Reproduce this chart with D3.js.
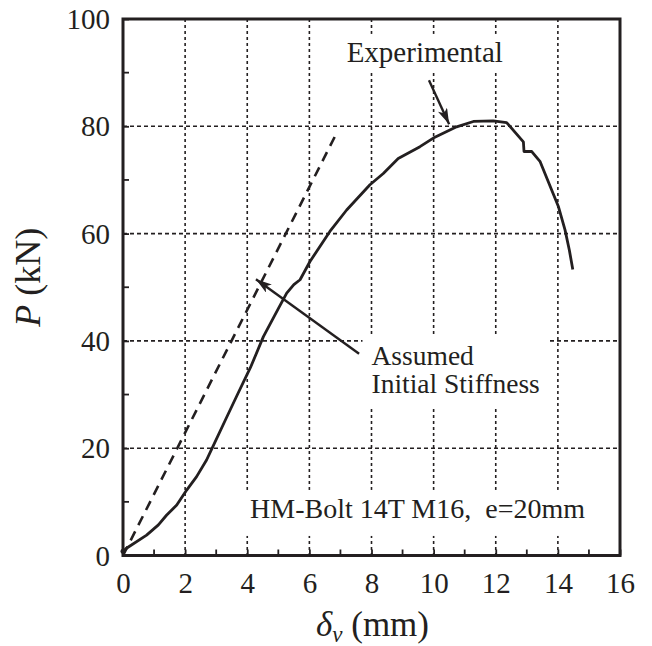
<!DOCTYPE html>
<html><head><meta charset="utf-8">
<script src="https://cdn.jsdelivr.net/npm/d3@7"></script>
<style>
html,body{margin:0;padding:0;background:#fff;}
svg text{font-family:"Liberation Serif","Times New Roman",serif;fill:#231f20;}
</style></head>
<body>
<svg id="chart" width="652" height="646"></svg>
<script>
// ---- data ----
const expX = [0, 0.1, 0.76, 1.14, 1.4, 1.73, 2.05, 2.37, 2.69, 2.87, 3.3, 3.7, 4.1, 4.52, 5.0, 5.27, 5.5, 5.7, 6.02, 6.66, 7.2, 7.95, 8.38, 8.86, 9.56, 9.99, 10.74, 11.28, 11.92, 12.35, 12.89, 12.91, 13.16, 13.43, 14.02, 14.23, 14.37, 14.48];
const expY = [0.8, 1.3, 3.8, 5.7, 7.5, 9.4, 12.2, 14.7, 17.8, 20.0, 25.3, 30.2, 35.0, 40.8, 46.0, 48.9, 50.5, 51.4, 54.8, 60.4, 64.4, 69.1, 71.2, 74.0, 76.2, 77.8, 79.9, 80.9, 81.0, 80.7, 77.1, 75.3, 75.3, 73.4, 65.0, 60.7, 56.9, 53.3];
const stiffX = [0, 6.9];
const stiffY = [0, 79];
const xTicks = [0, 2, 4, 6, 8, 10, 12, 14, 16];
const xMinor = [1, 3, 5, 7, 9, 11, 13, 15];
const yTicks = [0, 20, 40, 60, 80, 100];
const yMinor = [10, 30, 50, 70, 90];
const xGrid = [2, 4, 6, 8, 10, 12, 14];
const yGrid = [20, 40, 60, 80];

const svg = d3.select("#chart");
const L = 123, R = 620, T = 19, B = 555.5;
const x = d3.scaleLinear().domain([0, 16]).range([L, R]);
const y = d3.scaleLinear().domain([0, 100]).range([B, T]);
const ink = "#231f20";

// grid
const g = svg.append("g");
g.selectAll(".gx").data(xGrid).join("line")
  .attr("x1", d => x(d)).attr("x2", d => x(d)).attr("y1", T).attr("y2", B)
  .attr("stroke", ink).attr("stroke-width", 1.6).attr("stroke-dasharray", "3,3");
g.selectAll(".gy").data(yGrid).join("line")
  .attr("y1", d => y(d)).attr("y2", d => y(d)).attr("x1", L).attr("x2", R)
  .attr("stroke", ink).attr("stroke-width", 1.6).attr("stroke-dasharray", "4,3");

// annotation text boxes (white masks over grid)
const ann = svg.append("g");
function label(lines, xv, yv, size, lh, pad) {
  const grp = ann.append("g");
  const rect = grp.append("rect").attr("fill", "#fff");
  const t = grp.append("text").attr("font-size", size);
  lines.forEach((s, i) => t.append("tspan").attr("x", x(xv)).attr("y", y(yv) + i * lh).text(s));
  const bb = t.node().getBBox();
  rect.attr("x", bb.x - pad[0]).attr("y", bb.y - pad[1])
      .attr("width", bb.width + pad[0] + pad[2]).attr("height", bb.height + pad[1] + pad[3]);
}
label(["Experimental"], 7.2, 92.0, 29, 0, [4, 2, 4, 4]);
label(["Assumed", "Initial Stiffness"], 8.0, 35.5, 27.5, 28, [9, 6, 9, 8]);
label(["HM-Bolt 14T M16,\u00a0 e=20mm"], 4.09, 7.0, 28, 0, [7, 3, 7, 12]);

// assumed stiffness dashed line
const line = d3.line().x(d => x(d[0])).y(d => y(d[1]));
svg.append("path").datum(stiffX.map((v, i) => [v, stiffY[i]]))
  .attr("d", line).attr("fill", "none").attr("stroke", ink)
  .attr("stroke-width", 2.6).attr("stroke-dasharray", "10,7");

// experimental curve
svg.append("path").datum(expX.map((v, i) => [v, expY[i]]))
  .attr("d", line).attr("fill", "none").attr("stroke", ink)
  .attr("stroke-width", 2.8).attr("stroke-linejoin", "round");
svg.append("circle").attr("cx", x(expX[0])).attr("cy", y(expY[0])).attr("r", 2.5).attr("fill", ink);

// arrows
const defs = svg.append("defs");
defs.append("marker").attr("id", "ah").attr("viewBox", "0 0 16 10").attr("refX", 16).attr("refY", 5)
  .attr("markerWidth", 16).attr("markerHeight", 10).attr("markerUnits", "userSpaceOnUse").attr("orient", "auto")
  .append("path").attr("d", "M0,0 L16,5 L0,10 L4,5 Z").attr("fill", ink);
const arrows = [[9.85, 88.6, 10.5, 80.4], [7.6, 37.6, 4.28, 51.5]];
svg.selectAll(".arr").data(arrows).join("line")
  .attr("x1", d => x(d[0])).attr("y1", d => y(d[1])).attr("x2", d => x(d[2])).attr("y2", d => y(d[3]))
  .attr("stroke", ink).attr("stroke-width", 2.4).attr("marker-end", "url(#ah)");

// axes with inward ticks
const xa = svg.append("g").attr("transform", `translate(0,${B})`)
  .call(d3.axisBottom(x).tickValues(xTicks).tickSizeInner(-6).tickSizeOuter(0).tickPadding(17).tickFormat(d3.format("d")));
const ya = svg.append("g").attr("transform", `translate(${L},0)`)
  .call(d3.axisLeft(y).tickValues(yTicks).tickSizeInner(-6).tickSizeOuter(0).tickPadding(13).tickFormat(d3.format("d")));
[xa, ya].forEach(a => {
  a.select(".domain").remove();
  a.selectAll("line").attr("stroke", ink).attr("stroke-width", 1.8);
  a.selectAll("text").attr("font-size", 29).attr("font-family", null).style("fill", ink);
});
ya.selectAll("text").attr("dy", "0.33em");
svg.selectAll(".mx").data(xMinor).join("line")
  .attr("x1", d => x(d)).attr("x2", d => x(d)).attr("y1", B).attr("y2", B - 6)
  .attr("stroke", ink).attr("stroke-width", 1.8);
svg.selectAll(".my").data(yMinor).join("line")
  .attr("y1", d => y(d)).attr("y2", d => y(d)).attr("x1", L).attr("x2", L + 6)
  .attr("stroke", ink).attr("stroke-width", 1.8);

// frame
svg.append("rect").attr("x", L).attr("y", T).attr("width", R - L).attr("height", B - T)
  .attr("fill", "none").attr("stroke", ink).attr("stroke-width", 3);

// axis titles
const xt = svg.append("text").attr("x", (L + R) / 2 + 1).attr("y", 636).attr("text-anchor", "middle").attr("font-size", 35);
xt.append("tspan").attr("font-style", "italic").text("\u03b4");
xt.append("tspan").attr("font-style", "italic").attr("font-size", 23).attr("dy", 6).text("v");
xt.append("tspan").attr("dy", -6).text(" (mm)");

const yt = svg.append("text").attr("transform", `translate(40,${(T + B) / 2 - 10}) rotate(-90)`)
  .attr("text-anchor", "middle").attr("font-size", 36);
yt.append("tspan").attr("font-style", "italic").text("P");
yt.append("tspan").text(" (kN)");
</script>
</body></html>
